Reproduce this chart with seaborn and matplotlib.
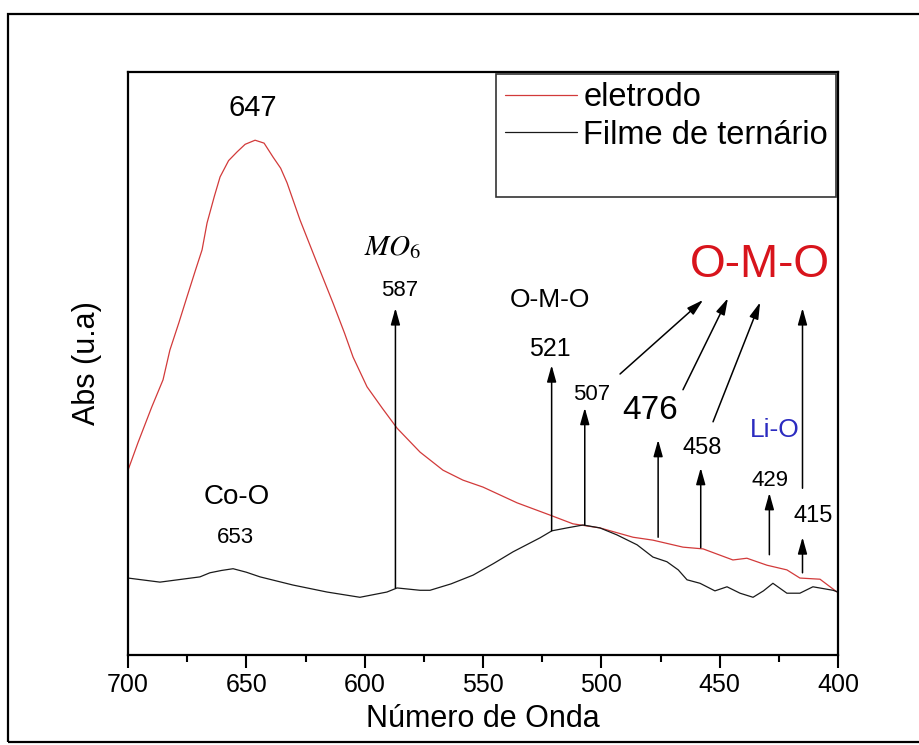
import matplotlib
matplotlib.use("Agg")
import matplotlib.pyplot as plt
from matplotlib.lines import Line2D
from matplotlib.patches import Rectangle
from matplotlib.ticker import MultipleLocator
import pandas as pd
import seaborn as sns

# FTIR spectra (wavenumber in cm-1, absorbance in arbitrary units)
eletrodo_x = [700, 695.8, 690.0, 685.2, 682.3, 678.5, 675.1, 671.5, 668.7, 666.6,
              663.5, 661.1, 657.5, 653.9, 650.5, 646.3, 642.5, 638.7, 635.5, 632.8,
              627.3, 620.1, 613.4, 608.5, 604.9, 599.0, 592.5, 586.3, 576.6, 566.9,
              558.5, 550.0, 535.6, 521.7, 512.0, 500.6, 486.6, 478.2, 465.5, 457.0,
              444.4, 438.5, 430.0, 421.6, 416.1, 407.6, 400.4]
eletrodo_y = [0.317, 0.364, 0.425, 0.472, 0.523, 0.570, 0.614, 0.660, 0.695, 0.741,
              0.787, 0.820, 0.848, 0.863, 0.876, 0.883, 0.878, 0.854, 0.835, 0.810,
              0.746, 0.672, 0.604, 0.552, 0.511, 0.460, 0.423, 0.389, 0.348, 0.317,
              0.300, 0.288, 0.261, 0.240, 0.225, 0.218, 0.202, 0.197, 0.185, 0.182,
              0.163, 0.166, 0.154, 0.146, 0.132, 0.130, 0.108]

filme_x = [700, 686.5, 669.6, 665.4, 660.5, 655.6, 650.0, 644.2, 630.3, 615.9,
           602.0, 590.6, 586.3, 576.6, 572.4, 563.5, 554.2, 545.5, 537.3, 525.9,
           520.9, 514.5, 507.7, 500.6, 493.4, 484.9, 478.2, 472.3, 467.5, 463.8,
           458.3, 452.0, 446.9, 441.4, 435.9, 431.5, 427.5, 421.6, 416.1, 410.6,
           402.1, 400.0]
filme_y = [0.132, 0.125, 0.134, 0.141, 0.145, 0.148, 0.142, 0.134, 0.120, 0.108,
           0.099, 0.108, 0.115, 0.111, 0.111, 0.122, 0.137, 0.157, 0.177, 0.201,
           0.213, 0.218, 0.223, 0.218, 0.206, 0.189, 0.168, 0.160, 0.146, 0.129,
           0.123, 0.110, 0.117, 0.106, 0.099, 0.110, 0.123, 0.106, 0.106, 0.117,
           0.111, 0.108]

# Band positions marked with vertical arrows: (wavenumber, base, tip)
band_pos = [587, 521, 507, 476, 458, 429, 415]
band_base = [0.115, 0.213, 0.223, 0.202, 0.184, 0.172, 0.141]
band_tip = [0.595, 0.497, 0.424, 0.369, 0.321, 0.278, 0.202]

series_names = ["eletrodo", "Filme de ternário"]
series_colors = ["#d23a3a", "#1a1a1a"]

sns.set_theme(style="white")
plt.rcParams["font.family"] = ["Liberation Sans", "DejaVu Sans"]
plt.rcParams["mathtext.fontset"] = "stix"
plt.rcParams["text.color"] = "black"
plt.rcParams["axes.labelcolor"] = "black"
plt.rcParams["xtick.color"] = "black"
plt.rcParams["xtick.labelcolor"] = "black"

fig = plt.figure(figsize=(9.2, 7.45), dpi=100)
ax = fig.add_axes([128 / 920, 1 - 655 / 745, (838 - 128) / 920, (655 - 72) / 745])

df = pd.concat([
    pd.DataFrame({"x": eletrodo_x, "y": eletrodo_y, "serie": series_names[0]}),
    pd.DataFrame({"x": filme_x, "y": filme_y, "serie": series_names[1]}),
])
sns.lineplot(data=df, x="x", y="y", hue="serie", palette=series_colors,
             linewidth=0.9, ax=ax, legend=False, estimator=None, sort=False)

ax.set_xlim(700, 400)
ax.set_ylim(0, 1)
ax.xaxis.set_major_locator(MultipleLocator(50))
ax.xaxis.set_minor_locator(MultipleLocator(25))
ax.set_yticks([])
ax.tick_params(axis="x", which="major", direction="out", length=9, width=1.5,
               labelsize=18, pad=4, bottom=True, color="black", labelcolor="black")
ax.tick_params(axis="x", which="minor", direction="out", length=5, width=1.5,
               bottom=True, color="black")
for s in ax.spines.values():
    s.set_color("black")
    s.set_linewidth(1.6)
ax.set_xlabel("Número de Onda", fontsize=22, labelpad=5, color="black")
ax.set_ylabel("Abs (u.a)", fontsize=22, labelpad=19, color="black")

# Legend with a blank third row
handles = [Line2D([], [], color=series_colors[0], lw=0.9),
           Line2D([], [], color=series_colors[1], lw=0.9),
           Line2D([], [], color="none")]
leg = ax.legend(handles, series_names + [" "], loc="upper right", fontsize=23.5,
                frameon=True, fancybox=False, edgecolor="black", borderaxespad=0.05,
                handlelength=2.2, handletextpad=0.2, labelspacing=0.2,
                borderpad=0.26)
leg.get_frame().set_linewidth(1.2)
for t in leg.get_texts():
    t.set_color("black")

arrow_kw = dict(arrowstyle="-|>,head_length=1.0,head_width=0.28", color="black",
                lw=1.1, shrinkA=0, shrinkB=0, mutation_scale=10)

for x, b, t in zip(band_pos, band_base, band_tip):
    ax.annotate("", xy=(x, t), xytext=(x, b), arrowprops=arrow_kw)

# Long arrow from the 415 label up to O-M-O
ax.annotate("", xy=(415, 0.595), xytext=(415, 0.286), arrowprops=arrow_kw)

# Diagonal arrows towards the O-M-O label
ax.annotate("", xy=(457.0, 0.609), xytext=(492.1, 0.482), arrowprops=arrow_kw)
ax.annotate("", xy=(446.5, 0.612), xytext=(465.5, 0.455), arrowprops=arrow_kw)
ax.annotate("", xy=(432.9, 0.605), xytext=(452.8, 0.400), arrowprops=arrow_kw)

txt = dict(ha="center", va="center", color="black")
ax.text(647.2, 0.938, "647", fontsize=21, **txt)
ax.text(588.0, 0.700, "$MO_6$", fontsize=21, **txt)
ax.text(585.1, 0.626, "587", fontsize=16, **txt)
ax.text(521.7, 0.609, "O-M-O", fontsize=19, **txt)
ax.text(521.7, 0.525, "521", fontsize=18, **txt)
ax.text(504.0, 0.446, "507", fontsize=16, **txt)
ax.text(479.4, 0.420, "476", fontsize=24, **txt)
ax.text(457.5, 0.355, "458", fontsize=17, **txt)
ax.text(428.7, 0.300, "429", fontsize=16, **txt)
ax.text(410.6, 0.238, "415", fontsize=17, **txt)
ax.text(426.6, 0.386, "Li-O", fontsize=19, ha="center", va="center", color="#2b2bc0")
ax.text(433.0, 0.669, "O-M-O", fontsize=33, ha="center", va="center", color="#d8141c")
ax.text(653.9, 0.271, "Co-O", fontsize=20, **txt)
ax.text(654.8, 0.202, "653", fontsize=16, **txt)

# Outer frame around the figure
fig.patches.append(Rectangle((8 / 920, 3 / 745), 1.05, (742 - 14) / 745,
                             transform=fig.transFigure, fill=False,
                             edgecolor="black", linewidth=1.6, zorder=10))

fig.savefig("out.png", dpi=100, facecolor="white")
